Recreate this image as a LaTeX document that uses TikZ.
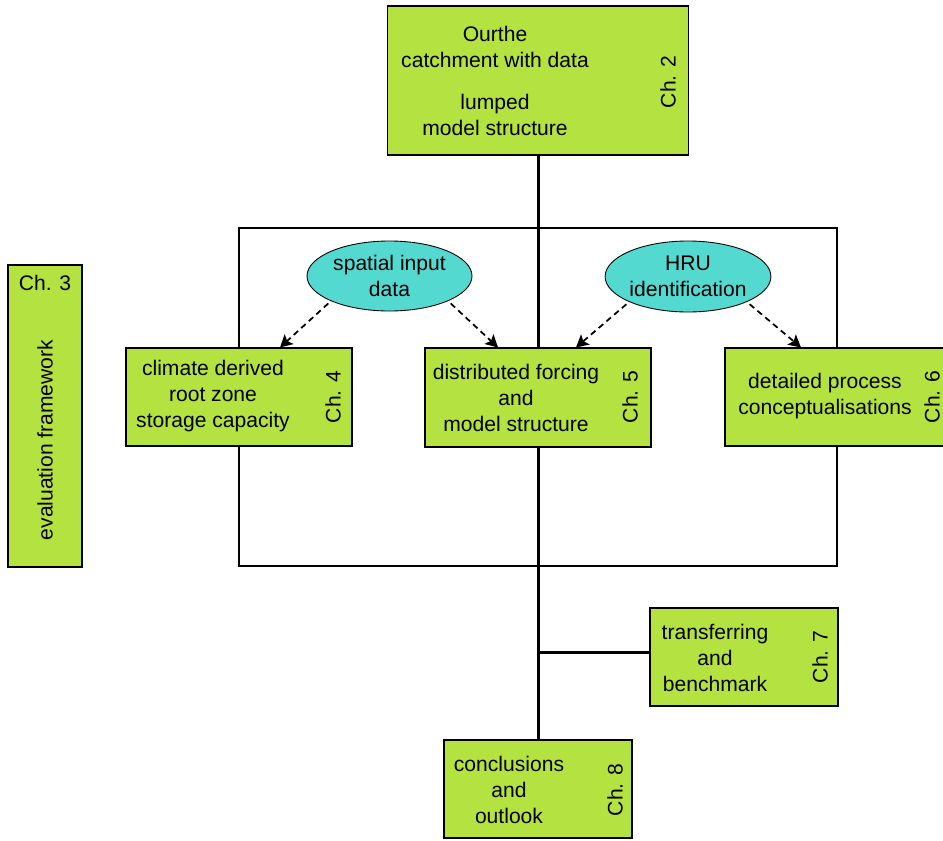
\documentclass[tikz,border=0pt]{standalone}
\usepackage{fontspec}
\setmainfont{Liberation Sans}
\usetikzlibrary{positioning,shapes.geometric,arrows.meta}
\definecolor{chgreen}{RGB}{180,226,64}
\definecolor{chcyan}{RGB}{84,217,208}
\tikzset{
    chapbox/.style={
           rectangle,
           draw=black, line width=0.6pt,
           fill=chgreen,
           inner sep=0pt,
           },
}
\tikzset{
    topic/.style={
           ellipse,
           draw=black, line width=0.5pt,
           fill=chcyan,
           inner sep=0pt,
           align=center,
           font=\fontsize{12}{14.8}\selectfont,
           },
}
\tikzset{
    boxtext/.style={align=center, inner sep=1pt, font=\fontsize{12}{14.8}\selectfont},
    chlabel/.style={rotate=90, inner sep=1pt, font=\fontsize{12}{14.8}\selectfont},
    link/.style={line width=1.7pt},
    dasharrow/.style={line width=1pt, dash pattern=on 3.4pt off 2.4pt,
           -{Stealth[length=7pt,width=7.5pt,inset=1.5pt]}, shorten <=2pt},
}

\begin{document}
\begin{tikzpicture}
\useasboundingbox (0,0) rectangle (18.86,-16.8);
% frame of the distributed chapters
\node[draw, line width=1.1pt, minimum width=11.96cm, minimum height=6.76cm,
      inner sep=0pt] (frame) at (10.76,-7.94) {};
% main boxes
\node[chapbox, minimum width=6.02cm, minimum height=2.98cm](ch2) at (10.76,-1.61) {};
\node[chapbox, minimum width=1.48cm, minimum height=6.04cm](ch3) at (0.9,-8.32) {};
\node[chapbox, minimum width=4.52cm, minimum height=1.96cm](ch4) at (4.78,-7.94) {};
\node[chapbox, minimum width=4.52cm, minimum height=1.98cm](ch5) at (10.76,-7.95) {};
\node[chapbox, minimum width=4.52cm, minimum height=1.96cm](ch6) at (16.76,-7.94) {};
\node[chapbox, minimum width=3.76cm, minimum height=1.96cm](ch7) at (14.88,-13.14) {};
\node[chapbox, minimum width=3.76cm, minimum height=1.96cm](ch8) at (10.76,-15.78) {};
% texts
\node[boxtext](ch2a) at (9.9,-0.94) {Ourthe\\catchment with data};
\node[boxtext](ch2b) at (9.9,-2.3) {lumped\\model structure};
\node[chlabel](ch2l) at (13.36,-1.64) {Ch. 2};
\node[boxtext](ch3l) at (0.9,-5.66) {Ch. 3};
\node[chlabel](ch3a) at (0.9,-8.8) {evaluation framework};
\node[boxtext](ch4a) at (4.26,-7.92) {climate derived\\root zone\\storage capacity};
\node[chlabel](ch4l) at (6.66,-7.94) {Ch. 4};
\node[boxtext](ch5a) at (10.32,-7.96) {distributed forcing\\and\\model structure};
\node[chlabel](ch5l) at (12.6,-7.94) {Ch. 5};
\node[boxtext](ch6a) at (16.5,-7.92) {detailed process\\conceptualisations};
\node[chlabel](ch6l) at (18.64,-7.94) {Ch. 6};
\node[boxtext](ch7a) at (14.3,-13.16) {transferring\\and\\benchmark};
\node[chlabel](ch7l) at (16.4,-13.14) {Ch. 7};
\node[boxtext](ch8a) at (10.18,-15.8) {conclusions\\and\\outlook};
\node[chlabel](ch8l) at (12.3,-15.8) {Ch. 8};
% ellipses
\node[topic, minimum width=3.3cm, minimum height=1.4cm](spatial) at (7.79,-5.52) {spatial input\\data};
\node[topic, minimum width=3.16cm, minimum height=1.42cm](hru) at (13.76,-5.53) {HRU\\identification};
% connectors
\draw[link] (ch2.south) -- (ch5.north);
\draw[link] (ch5.south) -- (ch8.north);
\draw[link] ([yshift=0.1cm]ch7.west) -- ([yshift=0.1cm]ch7.west -| ch8.north);
\draw[dasharrow] (spatial.south west) -- ([xshift=0.82cm]ch4.north);
\draw[dasharrow] (spatial.south east) -- ([xshift=-0.8cm]ch5.north);
\draw[dasharrow] (hru.south west) -- ([xshift=0.76cm]ch5.north);
\draw[dasharrow] (hru.south east) -- ([xshift=-0.74cm]ch6.north);
\end{tikzpicture}
\end{document}
